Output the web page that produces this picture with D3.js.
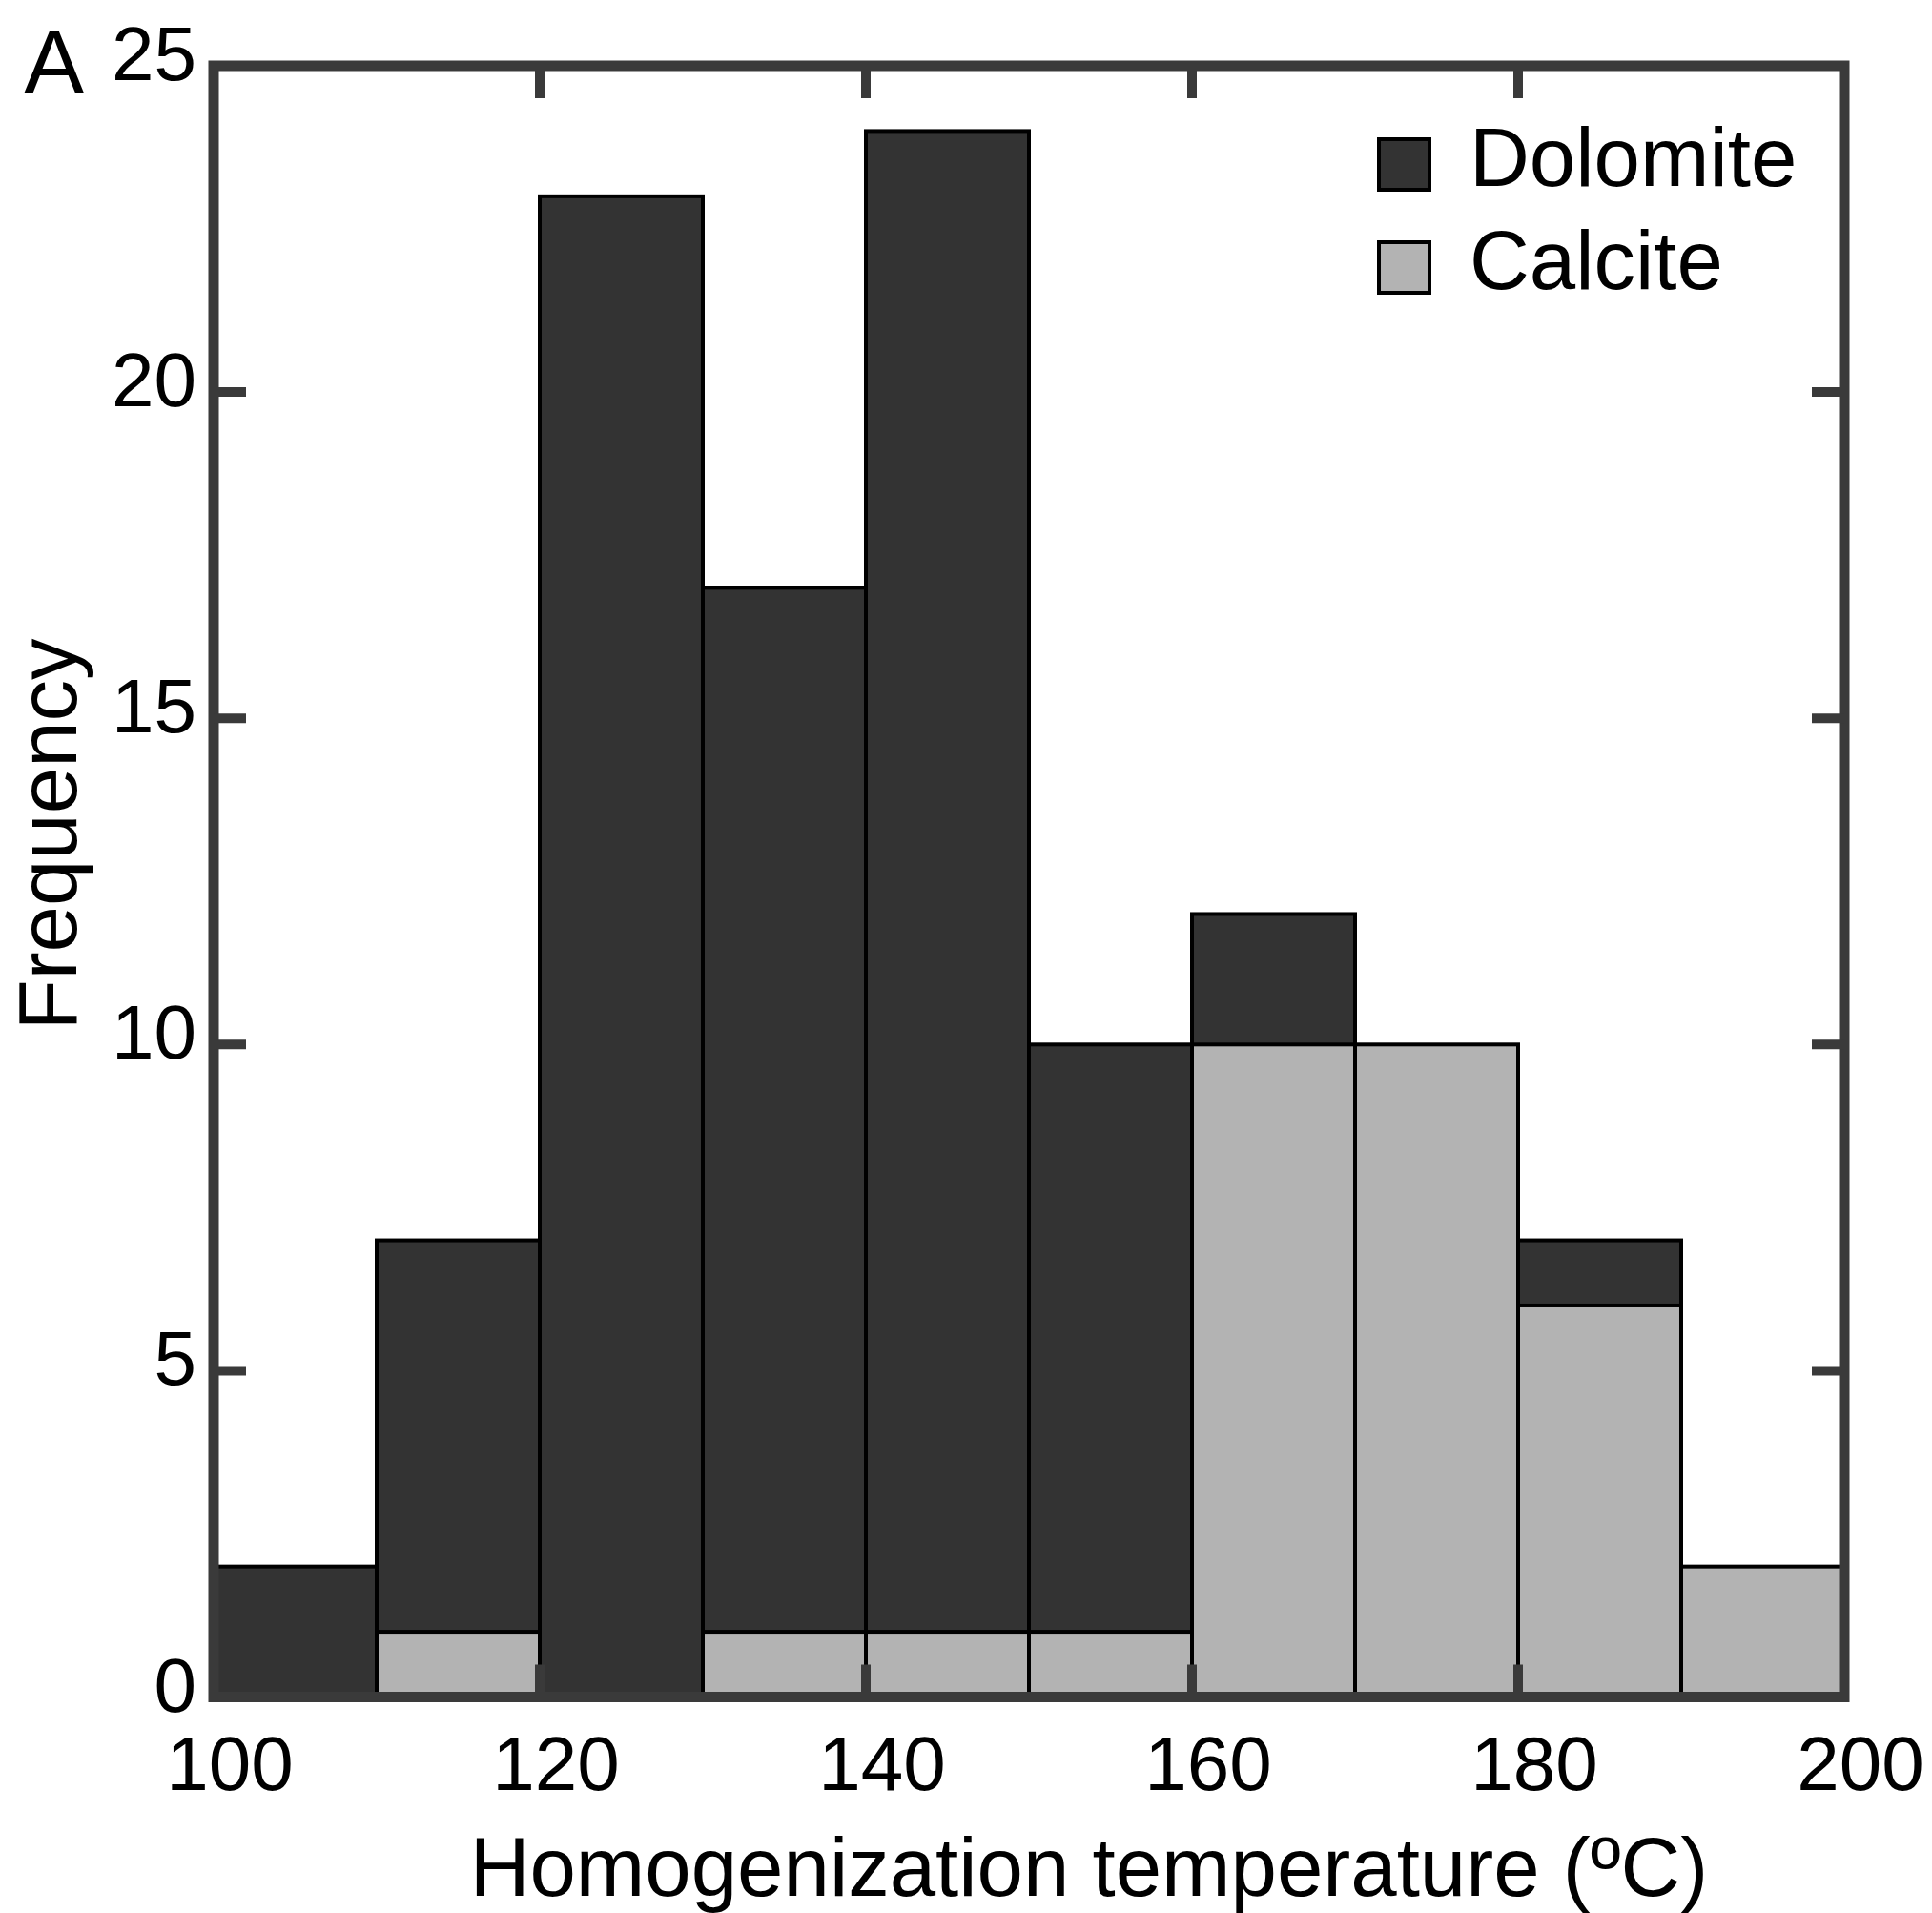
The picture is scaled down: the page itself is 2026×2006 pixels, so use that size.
<!DOCTYPE html>
<html>
<head>
<meta charset="utf-8">
<script src="https://cdn.jsdelivr.net/npm/d3@7"></script>
<style>
  body { margin: 0; background: #fff; }
  text { font-family: "Liberation Sans", Arial, sans-serif; fill: #000; }
</style>
</head>
<body>
<svg id="chart" width="2026" height="2006"></svg>
<script>
// histogram bins (lower edge, width 10 ºC)
var binStarts = [100, 110, 120, 130, 140, 150, 160, 170, 180, 190];
var dolomite  = [2, 7, 23, 17, 24, 10, 12, 0, 7, 0];
var calcite   = [0, 1, 0, 1, 1, 1, 10, 10, 6, 2];
var xTicks = [100, 120, 140, 160, 180, 200];
var yTicks = [0, 5, 10, 15, 20, 25];
var seriesNames = ["Dolomite", "Calcite"];

var dark = "#333333", light = "#b3b3b3", frameColor = "#3a3a3a";

var margin = {top: 69, right: 92, bottom: 226.5, left: 224};
var width = 2026 - margin.left - margin.right;
var height = 2006 - margin.top - margin.bottom;

var x = d3.scaleLinear().domain([100, 200]).range([0, width]);
var y = d3.scaleLinear().domain([0, 25]).range([height, 0]);

var svg = d3.select("#chart");
var g = svg.append("g")
  .attr("transform", "translate(" + margin.left + "," + margin.top + ")");

function drawBars(values, fill, cls) {
  g.selectAll("." + cls)
    .data(values.map(function(v, i){ return {x0: binStarts[i], v: v}; })
      .filter(function(d){ return d.v > 0; }))
    .enter().append("rect")
    .attr("class", cls)
    .attr("x", function(d){ return x(d.x0); })
    .attr("width", function(d){ return x(d.x0 + 10) - x(d.x0); })
    .attr("y", function(d){ return y(d.v); })
    .attr("height", function(d){ return y(0) - y(d.v); })
    .attr("fill", fill)
    .attr("stroke", "#000")
    .attr("stroke-width", 4);
}
drawBars(dolomite, dark, "dol");
drawBars(calcite, light, "cal");

// frame
g.append("rect")
  .attr("x", 0).attr("y", 0)
  .attr("width", width).attr("height", height)
  .attr("fill", "none")
  .attr("stroke", frameColor)
  .attr("stroke-width", 11);

var tickLen = 34;
// inward ticks, all four sides
var inner = xTicks.slice(1, -1);
g.selectAll(".xt-b").data(inner).enter().append("line")
  .attr("x1", x).attr("x2", x).attr("y1", height).attr("y2", height - tickLen)
  .attr("stroke", frameColor).attr("stroke-width", 10);
g.selectAll(".xt-t").data(inner).enter().append("line")
  .attr("x1", x).attr("x2", x).attr("y1", 0).attr("y2", tickLen)
  .attr("stroke", frameColor).attr("stroke-width", 10);
var innerY = yTicks.slice(1, -1);
g.selectAll(".yt-l").data(innerY).enter().append("line")
  .attr("y1", y).attr("y2", y).attr("x1", 0).attr("x2", tickLen)
  .attr("stroke", frameColor).attr("stroke-width", 10);
g.selectAll(".yt-r").data(innerY).enter().append("line")
  .attr("y1", y).attr("y2", y).attr("x1", width).attr("x2", width - tickLen)
  .attr("stroke", frameColor).attr("stroke-width", 10);

// tick labels
g.selectAll(".xl").data(xTicks).enter().append("text")
  .attr("x", function(d){ return x(d) + 17; })
  .attr("y", height + 97.5)
  .attr("text-anchor", "middle")
  .style("font-size", "80px")
  .text(function(d){ return d; });

g.selectAll(".yl").data(yTicks).enter().append("text")
  .attr("x", -18)
  .attr("y", function(d){ return y(d) + 15; })
  .attr("text-anchor", "end")
  .style("font-size", "80px")
  .text(function(d){ return d; });

// axis titles
svg.append("text")
  .attr("x", 1142).attr("y", 1988)
  .attr("text-anchor", "middle")
  .style("font-size", "87px")
  .text("Homogenization temperature (ºC)");

svg.append("text")
  .attr("transform", "translate(80,875)rotate(-90)")
  .attr("text-anchor", "middle")
  .style("font-size", "87px")
  .text("Frequency");

svg.append("text")
  .attr("x", 25).attr("y", 98)
  .style("font-size", "95px")
  .text("A");

// legend
var legend = svg.append("g").attr("transform", "translate(1446,146)");
var lg = legend.selectAll(".lg").data(seriesNames).enter().append("g")
  .attr("transform", function(d, i){ return "translate(0," + (i * 108) + ")"; });
lg.append("rect")
  .attr("width", 53).attr("height", 53)
  .attr("fill", function(d, i){ return i === 0 ? dark : light; })
  .attr("stroke", "#000").attr("stroke-width", 4);
lg.append("text")
  .attr("x", 95).attr("y", 49)
  .style("font-size", "87px")
  .text(function(d){ return d; });
</script>
</body>
</html>
